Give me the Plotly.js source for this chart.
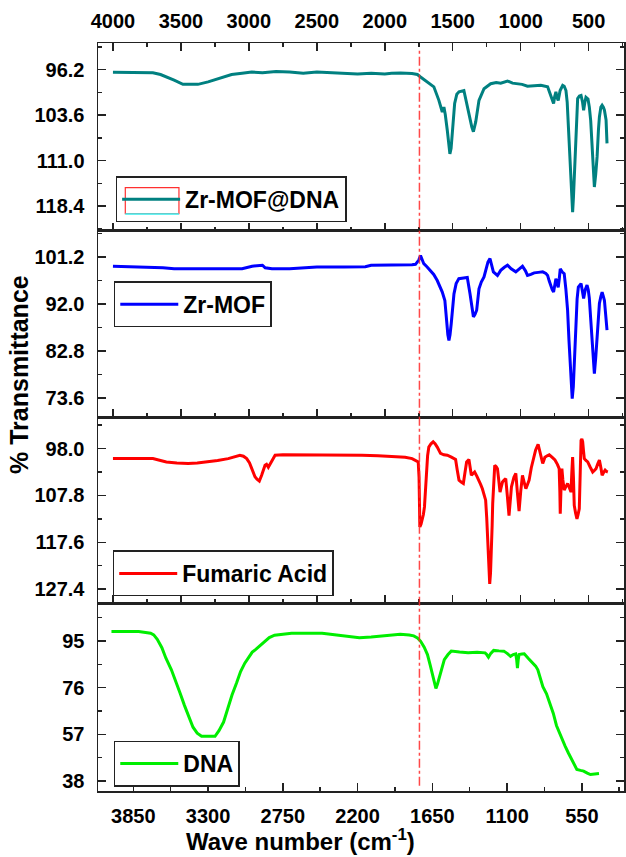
<!DOCTYPE html>
<html>
<head>
<meta charset="utf-8">
<script src="https://cdn.plot.ly/plotly-3.0.1.min.js"></script>
<style>html,body{margin:0;padding:0;background:#fff;}#chart{width:626px;height:857px;}</style>
</head>
<body>
<div id="chart"></div>
<script>
// ---- Data (wavenumber in cm-1, % transmittance) ----
const mofDnaX = [4000,3900,3800,3706,3650,3600,3550,3485,3430,3375,3300,3230,3127,3050,2979,2900,2800,2700,2600,2500,2400,2300,2200,2100,2000,1950,1884,1800,1760,1737,1700,1639,1602,1577,1565,1555,1540,1530,1521,1512,1503,1486,1470,1454,1418,1398,1380,1368,1360,1348,1340,1331,1307,1270,1221,1180,1147,1120,1097,1060,1024,990,950,900,852,802,790,778,768,758,750,741,732,724,710,691,680,667,658,650,640,630,623,618,612,606,600,593,585,581,568,556,545,537,528,520,505,495,485,477,468,458,448,438,428,421,410,401,392,384,372,365];
const mofDnaY = [96.64,96.64,96.64,96.7,97.0,97.4,97.9,98.6,98.64,98.6,98.2,97.7,97.0,96.8,96.6,96.7,96.5,96.6,96.8,96.6,96.7,96.7,96.9,96.8,96.9,96.8,96.75,96.85,97.0,97.4,98.0,99.0,101.2,103.1,102.3,103.5,106.1,108.8,109.9,109.0,106.6,101.7,100.2,99.8,99.6,101.7,103.4,104.4,105.5,106.3,105.5,104.7,101.2,99.3,98.5,98.3,98.4,98.2,98.05,98.4,98.5,98.6,98.9,98.8,98.75,99.0,99.8,100.7,101.2,101.7,100.6,99.8,100.8,101.2,99.6,98.75,98.9,99.6,101.5,105.0,109.5,113.7,117.5,119.4,117.0,113.7,110.0,106.6,102.5,100.9,100.5,100.4,101.5,102.8,101.5,100.7,101.0,102.3,104.5,107.2,111.5,115.3,113.2,110.4,106.0,103.9,102.3,102.0,102.3,102.8,104.4,108.2];

const mofX = [4000,3900,3800,3700,3632,3550,3400,3200,3050,2976,2930,2900,2880,2830,2700,2608,2500,2300,2143,2100,2000,1900,1800,1774,1750,1737,1725,1713,1690,1663,1640,1614,1595,1577,1558,1546,1536,1528,1520,1511,1500,1491,1475,1455,1420,1393,1373,1360,1348,1336,1324,1307,1290,1270,1255,1241,1226,1215,1201,1171,1147,1120,1097,1070,1036,1010,987,965,950,925,901,870,838,815,802,790,778,768,758,750,741,732,724,716,709,695,680,668,655,645,636,628,621,613,606,600,593,585,576,566,556,546,537,525,512,503,495,486,477,468,458,448,438,430,421,410,401,392,384,375,365];
const mofY = [99.38,99.3,99.24,99.24,99.1,98.9,98.9,98.9,98.9,99.4,99.6,99.6,99.1,98.9,98.9,99.1,99.24,99.24,99.3,99.6,99.6,99.6,99.7,99.77,100.6,101.5,100.7,99.9,99.3,98.6,97.8,96.6,95.6,94.35,92.7,88.5,86.0,84.9,86.0,88.2,91.0,94.0,96.0,96.97,97.1,97.2,94.0,91.5,89.5,90.0,90.8,95.0,96.3,97.3,98.8,100.2,100.9,99.8,98.3,97.6,98.6,99.2,99.6,98.9,98.3,98.9,99.4,98.5,97.6,97.8,98.1,98.2,98.3,98.0,97.6,96.5,95.3,94.8,94.35,95.5,96.97,96.0,95.3,97.0,98.9,98.3,97.95,95.0,90.8,85.0,79.7,75.5,73.5,75.8,79.7,84.5,89.5,93.0,95.3,95.6,96.0,94.5,93.1,94.8,95.7,94.8,93.1,89.5,85.5,81.5,78.4,81.5,85.5,89.0,92.1,93.5,94.35,93.5,92.7,90.0,86.9];

const fumX = [4000,3900,3800,3706,3650,3607,3530,3447,3380,3300,3230,3152,3100,3066,3040,3016,2995,2979,2965,2955,2940,2923,2906,2890,2881,2870,2857,2835,2807,2750,2660,2550,2414,2300,2168,2050,1922,1850,1799,1770,1754,1748,1745,1742,1733,1725,1716,1708,1700,1693,1685,1676,1660,1644,1630,1614,1600,1590,1565,1540,1510,1479,1467,1454,1438,1422,1410,1398,1381,1372,1363,1350,1339,1322,1307,1295,1282,1270,1258,1250,1245,1236,1228,1222,1216,1210,1206,1198,1191,1180,1171,1160,1152,1143,1134,1122,1110,1098,1086,1077,1068,1050,1036,1025,1012,1000,987,975,962,950,938,922,906,890,872,855,838,830,822,805,790,770,748,730,717,712,709,703,697,690,680,668,655,642,630,624,618,612,606,596,586,578,569,562,556,550,544,538,532,520,507,490,470,458,446,433,421,410,401,390,379,369,359];
const fumY = [100.1,100.1,100.1,100.1,100.5,100.8,101.0,101.1,101.0,100.8,100.5,100.1,99.7,99.4,99.6,100.1,101.0,102.2,103.2,103.9,104.4,104.8,103.6,102.5,101.5,101.3,101.9,100.8,99.4,99.3,99.3,99.4,99.4,99.3,99.4,99.5,99.6,99.8,100.1,100.5,100.8,104.0,108.1,114.4,113.8,113.0,111.8,110.2,106.0,101.9,99.5,97.7,97.0,96.6,97.0,97.7,98.5,99.0,99.3,99.4,99.8,100.3,102.5,104.6,105.0,105.3,103.0,100.8,100.3,102.0,103.6,103.2,102.9,103.8,104.6,105.5,106.4,107.6,108.8,112.5,116.5,121.5,126.3,124.0,120.0,114.0,109.5,104.5,101.5,101.8,102.2,105.0,107.1,106.0,105.0,104.6,104.3,108.0,112.0,109.0,106.0,104.0,103.2,107.0,111.1,107.0,103.6,105.0,106.4,105.5,104.6,102.0,99.8,98.3,97.1,99.0,101.1,100.5,99.8,99.5,99.3,99.8,100.4,101.3,102.2,107.0,111.6,106.0,102.2,104.5,106.7,106.0,105.3,106.2,107.1,103.0,99.8,104.0,109.9,111.5,112.7,111.8,110.6,103.0,96.3,96.0,96.6,98.5,100.1,100.5,100.8,101.8,102.9,102.6,102.2,101.2,100.4,102.0,103.6,103.0,102.5,102.8,102.9];

const dnaX = [4011,3900,3811,3760,3723,3700,3674,3640,3611,3570,3536,3505,3474,3440,3411,3380,3348,3300,3249,3220,3186,3155,3124,3090,3061,3030,2999,2975,2949,2920,2886,2850,2811,2750,2686,2600,2461,2400,2337,2260,2187,2100,2036,1960,1886,1820,1787,1760,1737,1710,1686,1665,1649,1636,1624,1612,1599,1580,1562,1535,1511,1450,1387,1320,1262,1250,1237,1220,1199,1160,1124,1100,1075,1055,1037,1030,1024,1018,1012,990,974,945,912,890,874,855,837,810,787,760,737,705,674,650,624,605,587,560,537,510,487,455,424];
const dnaY = [98.9,98.9,98.9,98.5,98.2,97.5,95.7,92.3,88.1,83.3,78.5,73.6,68.8,64.0,59.9,57.5,56.2,56.2,56.2,58.5,62.0,67.5,73.0,78.0,82.6,86.0,88.8,90.5,91.6,93.0,95.0,96.4,97.4,97.9,98.2,98.2,98.2,97.8,97.4,96.9,96.4,96.7,97.1,97.5,97.8,97.5,97.1,96.3,95.0,92.5,89.5,85.0,81.2,78.0,75.7,77.5,79.9,84.0,87.4,89.5,90.9,90.5,90.2,90.4,90.2,89.5,88.4,90.0,91.2,91.0,90.9,90.0,88.8,89.5,89.8,87.5,84.0,87.5,89.5,89.7,89.8,88.0,86.1,84.8,83.3,80.0,76.4,73.5,70.2,65.5,60.6,56.0,52.3,49.5,46.8,44.5,42.7,42.3,42.0,41.2,40.6,40.8,41.0];

const seriesNames = ["Zr-MOF@DNA", "Zr-MOF", "Fumaric Acid", "DNA"];
const markerWavenumber = 1745;

// ---- Layout helpers ----
const FONT = "Liberation Sans, Arial, sans-serif";
const AX = '#222';
const xRange = [4110, 240];
const domains = [[0.7487, 1], [0.5, 0.7487], [0.2513, 0.5], [0, 0.2513]];

function yAxis(i, range, tick0, dtick, fmt) {
  return {
    domain: domains[i], range: range, anchor: 'x' + (i ? i + 1 : ''),
    tick0: tick0, dtick: dtick, tickformat: fmt,
    ticks: 'inside', ticklen: 8, tickwidth: 1.5, tickcolor: AX,
    minor: {tick0: tick0, dtick: dtick / 2, ticks: 'inside', ticklen: 4, tickwidth: 1.5, tickcolor: AX},
    showline: true, linecolor: AX, linewidth: 1.5, mirror: 'ticks',
    showgrid: false, zeroline: false, ticklabelstandoff: 8,
    tickfont: {family: FONT, size: 20, color: '#000', weight: 700}
  };
}
function xAxis(i, opts) {
  return Object.assign({
    range: xRange, anchor: 'y' + (i ? i + 1 : ''),
    tick0: 0, dtick: 500,
    ticks: 'inside', ticklen: 8, tickwidth: 1.5, tickcolor: AX,
    minor: {tick0: 0, dtick: 250, ticks: 'inside', ticklen: 4, tickwidth: 1.5, tickcolor: AX},
    showline: true, linecolor: AX, linewidth: 1.5, mirror: true,
    showgrid: false, zeroline: false, showticklabels: false, ticklabelstandoff: 6,
    tickfont: {family: FONT, size: 20, color: '#000', weight: 700}
  }, opts || {});
}

const traces = [
  {x: mofDnaX, y: mofDnaY, name: seriesNames[0], xaxis: 'x', yaxis: 'y', legend: 'legend', line: {color: '#008080', width: 3}},
  {x: mofX, y: mofY, name: seriesNames[1], xaxis: 'x2', yaxis: 'y2', legend: 'legend2', line: {color: '#0000FF', width: 3}},
  {x: fumX, y: fumY, name: seriesNames[2], xaxis: 'x3', yaxis: 'y3', legend: 'legend3', line: {color: '#FF0000', width: 3}},
  {x: dnaX, y: dnaY, name: seriesNames[3], xaxis: 'x4', yaxis: 'y4', legend: 'legend4', line: {color: '#00EE00', width: 3}}
].map(t => Object.assign({type: 'scatter', mode: 'lines', showlegend: true, hoverinfo: 'skip'}, t));

function legend(x, y, bg) {
  return {x: x, y: y, xanchor: 'left', yanchor: 'top', xref: 'paper', yref: 'paper',
    bgcolor: bg || '#fff', bordercolor: AX, borderwidth: 1.5, itemwidth: 58,
    font: {family: FONT, size: 23, color: '#000', weight: 700}};
}

const layout = {
  width: 626, height: 857,
  margin: {l: 98, r: 2, t: 43, b: 66, pad: 0},
  paper_bgcolor: '#fff', plot_bgcolor: 'rgba(0,0,0,0)',
  showlegend: true,
  xaxis: xAxis(0, {side: 'top', showticklabels: true, mirror: 'ticks'}),
  xaxis2: xAxis(1),
  xaxis3: xAxis(2),
  xaxis4: xAxis(3, {showticklabels: true, tick0: 0, dtick: 550,
    minor: {tick0: 0, dtick: 275, ticks: 'inside', ticklen: 4, tickwidth: 1.5, tickcolor: AX}}),
  yaxis: yAxis(0, [122.45, 91.87], 96.2, 7.4, '.1f'),
  yaxis2: yAxis(1, [69.9, 106.3], 73.6, 9.2, '.1f'),
  yaxis3: yAxis(2, [130.3, 91.4], 98.0, 9.8, '.1f'),
  yaxis4: yAxis(3, [33.9, 110.5], 38, 19, 'd'),
  legend: legend(0.0335, 0.8219, 'rgba(255,255,255,0)'),
  legend2: legend(0.030, 0.6814),
  legend3: legend(0.028, 0.3216),
  legend4: legend(0.030, 0.0675),
  shapes: [
    {type: 'line', xref: 'x', yref: 'paper', x0: markerWavenumber, x1: markerWavenumber, y0: 0.007, y1: 0.99,
     line: {color: 'rgba(255,40,40,0.85)', width: 1.5, dash: 'dashdot'}},
    // decorative frame drawn around the first legend's line sample in the original
    {type: 'rect', xref: 'paper', yref: 'paper', x0: 0.0519, x1: 0.1539, y0: 0.772, y1: 0.8067,
     line: {color: '#FF3030', width: 1.2}, fillcolor: 'rgba(0,0,0,0)', layer: 'above'},
    {type: 'line', xref: 'paper', yref: 'paper', x0: 0.0519, x1: 0.1539, y0: 0.7715, y1: 0.7715,
     line: {color: '#33FFFF', width: 1.5}, layer: 'above'}
  ],
  annotations: [
    {text: '% Transmittance', xref: 'paper', yref: 'paper', x: -0.149, y: 0.557, textangle: -90,
     showarrow: false, xanchor: 'center', yanchor: 'middle', font: {family: FONT, size: 25, color: '#000', weight: 700}},
    {text: 'Wave number (cm<sup>-1</sup>)', xref: 'paper', yref: 'paper', x: 0.3855, y: -0.066,
     showarrow: false, xanchor: 'center', yanchor: 'middle', font: {family: FONT, size: 24, color: '#000', weight: 700}}
  ]
};

Plotly.newPlot('chart', traces, layout, {staticPlot: true, displayModeBar: false});
</script>
</body>
</html>
